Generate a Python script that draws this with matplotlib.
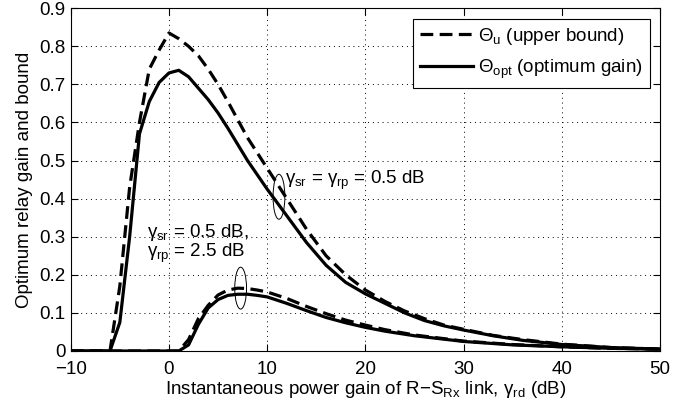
import numpy as np
import matplotlib
matplotlib.use('Agg')
import matplotlib.pyplot as plt
from matplotlib.patches import Ellipse

plt.rcParams['font.family'] = ['Liberation Sans', 'DejaVu Sans']
plt.rcParams['mathtext.fontset'] = 'custom'
plt.rcParams['mathtext.rm'] = 'Liberation Sans'
plt.rcParams['mathtext.it'] = 'Liberation Sans'
plt.rcParams['mathtext.bf'] = 'Liberation Sans'

# gamma_sr = gamma_rp = 0.5 dB
x1 = [-10, -6, -5, -4, -3, -2, -1, 0, 1, 2, 3, 4, 5, 6, 8, 10, 12, 14, 16, 18, 20,
      22, 24, 26, 28, 30, 33, 36, 40, 45, 50]
upper1 = [0, 0, 0.17, 0.43, 0.60, 0.74, 0.79, 0.835, 0.82, 0.80, 0.775, 0.74, 0.70,
          0.655, 0.56, 0.48, 0.40, 0.32, 0.25, 0.20, 0.16, 0.13, 0.105, 0.085, 0.068,
          0.057, 0.041, 0.03, 0.018, 0.009, 0.005]
opt1 = [0, 0, 0.075, 0.30, 0.57, 0.655, 0.705, 0.73, 0.737, 0.72, 0.69, 0.66, 0.625,
        0.585, 0.50, 0.425, 0.355, 0.285, 0.225, 0.18, 0.15, 0.125, 0.10, 0.08, 0.066,
        0.055, 0.04, 0.028, 0.017, 0.009, 0.005]

# gamma_sr = 0.5 dB, gamma_rp = 2.5 dB
x2 = [-10, 1, 2, 3, 4, 5, 6, 7, 8, 9, 10, 12, 14, 16, 18, 20, 22, 25, 30, 35, 40, 45, 50]
upper2 = [0, 0, 0.03, 0.085, 0.12, 0.147, 0.16, 0.165, 0.164, 0.16, 0.155, 0.138,
          0.117, 0.098, 0.081, 0.068, 0.056, 0.042, 0.026, 0.017, 0.011, 0.007, 0.005]
opt2 = [0, 0, 0.016, 0.07, 0.113, 0.135, 0.146, 0.149, 0.149, 0.146, 0.142, 0.125,
        0.106, 0.088, 0.074, 0.062, 0.052, 0.04, 0.025, 0.016, 0.011, 0.007, 0.005]

fig = plt.figure(figsize=(7, 4.11), dpi=100)
ax = fig.add_axes([0.101, 0.146, 0.842, 0.834])

lw = 2.3
dash = (0, (4, 2))
ax.plot(x1, upper1, 'k', ls=dash, lw=lw, label=r'$\Theta_{\rm u}$ (upper bound)')
ax.plot(x1, opt1, 'k', lw=lw, label=r'$\Theta_{\rm opt}$ (optimum gain)')
ax.plot(x2, upper2, 'k', ls=dash, lw=lw)
ax.plot(x2, opt2, 'k', lw=lw)

ax.add_patch(Ellipse((11.2, 0.405), 1.2, 0.118, fill=False, lw=0.7, ec='k'))
ax.add_patch(Ellipse((7.3, 0.165), 1.2, 0.11, fill=False, lw=0.7, ec='k'))

fs = 13.5
ax.text(11.8, 0.449, r'$\gamma_{\rm sr}$ = $\gamma_{\rm rp}$ = 0.5 dB', fontsize=fs, va='center')
ax.text(-2.2, 0.312, r'$\gamma_{\rm sr}$ = 0.5 dB,', fontsize=fs, va='center')
ax.text(-2.2, 0.257, r'$\gamma_{\rm rp}$ = 2.5 dB', fontsize=fs, va='center')

ax.set_xlim(-10, 50)
ax.set_ylim(0, 0.9)
ax.set_xticks([-10, 0, 10, 20, 30, 40, 50])
ax.set_yticks(np.arange(0, 0.91, 0.1))
ax.set_xticklabels(['\u221210', '0', '10', '20', '30', '40', '50'])
ax.set_yticklabels(['0', '0.1', '0.2', '0.3', '0.4', '0.5', '0.6', '0.7', '0.8', '0.9'])
ax.tick_params(direction='in', top=True, right=True, labelsize=fs, length=5)
ax.tick_params(axis='x', pad=7)
ax.grid(True, ls=(0, (1, 4)), color='k', lw=0.7)
ax.set_xlabel(r'Instantaneous power gain of R$-$S$_{\rm Rx}$ link, $\gamma_{\rm rd}$ (dB)',
              fontsize=fs, labelpad=1)
ax.set_ylabel('Optimum relay gain and bound', fontsize=fs, labelpad=5)

leg = ax.legend(loc='upper right', fontsize=fs, fancybox=False, framealpha=1,
                edgecolor='k', handlelength=2.8, handletextpad=0.25,
                labelspacing=0.55, borderaxespad=0.55)
leg.get_frame().set_linewidth(0.8)

fig.savefig('out.png', dpi=100)
